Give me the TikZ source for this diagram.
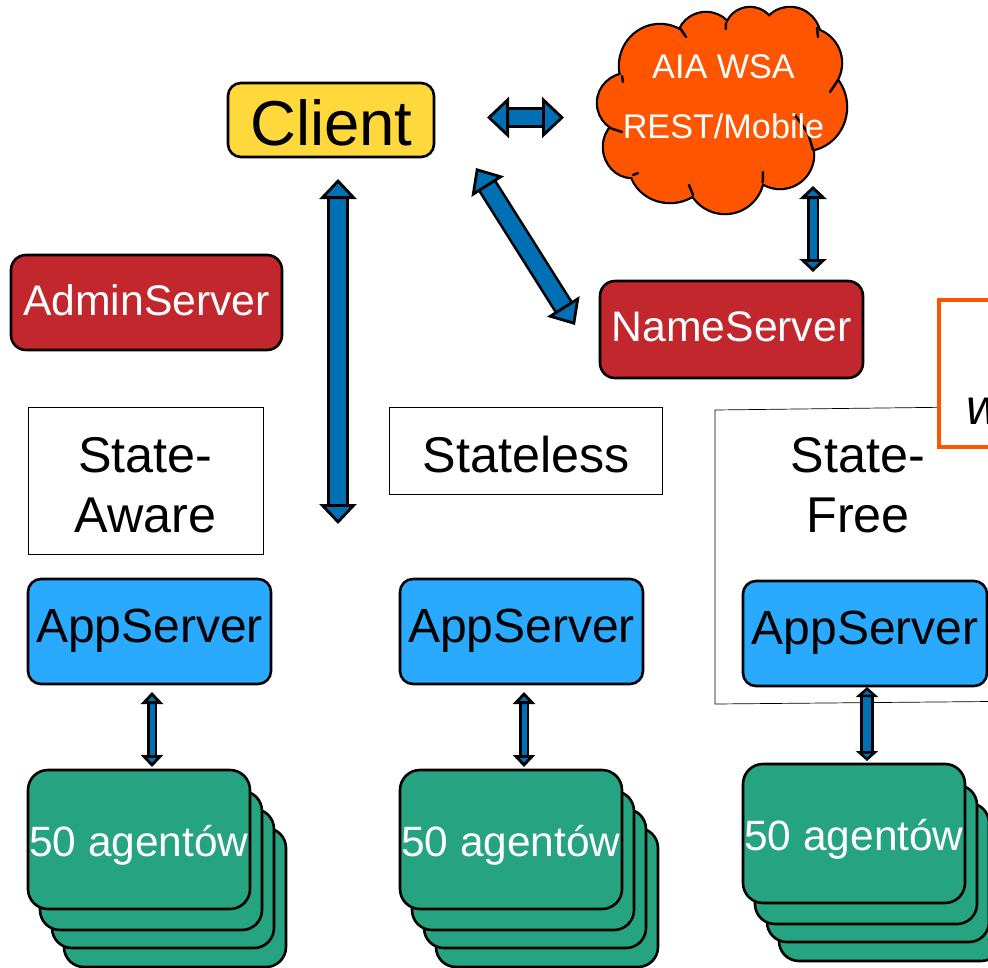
\documentclass[tikz,border=0pt]{standalone}
\usepackage{fontspec}
\setmainfont{Liberation Sans}
\usetikzlibrary{arrows.meta,calc}
\definecolor{clientyellow}{RGB}{255,216,60}
\definecolor{serverred}{RGB}{193,39,45}
\definecolor{appblue}{RGB}{42,170,255}
\definecolor{agentgreen}{RGB}{38,163,128}
\definecolor{arrowblue}{RGB}{0,112,181}
\definecolor{cloudorange}{RGB}{255,85,0}
\newcommand{\fsize}[1]{\fontsize{#1pt}{#1pt}\selectfont}
\tikzset{%
    round box/.style={draw=black,line width=2.6pt,rounded corners=13pt,inner sep=0pt,outer sep=0pt,anchor=north west},
    app node/.style={round box,fill=appblue,minimum width=243pt,minimum height=105pt,font=\fsize{48},text depth=12pt},
    agent node/.style={round box,fill=agentgreen,minimum width=222pt,minimum height=139pt,rounded corners=20pt,
        text=white,font=\fsize{42.4},text height=34pt,text depth=0pt},
    state node/.style={draw=black,line width=0.7pt,inner sep=0pt,outer sep=0pt,anchor=north west},
    state text/.style={font=\fsize{50.3},align=center,inner sep=0pt},
    cloud text/.style={text=white,font=\fsize{34.2},anchor=base,inner sep=0pt},
    blue arrow/.style args={#1/#2/#3}{line width=2.6pt,double=arrowblue,double distance=#1pt,
        {Triangle[length=#2pt,width=#3pt,fill=arrowblue,line width=2.8pt]}-{Triangle[length=#2pt,width=#3pt,fill=arrowblue,line width=2.8pt]}}
}

\begin{document}
\begin{tikzpicture}[x=1pt,y=1pt]
  \useasboundingbox (0,0) rectangle (988,-967);

  % cloud, drawn as a union of lobes
  \foreach \cx/\cy/\rx/\ry in {660/66/40/41,706/40/28/27,750/31/24/23,790/39/30/31,805/63/36/35,
      805/107/41/43,780/155/33/33,725/175/38/38,670/165/40/37,632/147/28/30,628/103/30/29}
    \draw[line width=4.5pt] (\cx,-\cy) ellipse ({\rx} and {\ry});
  \foreach \cx/\cy/\rx/\ry in {660/66/40/41,706/40/28/27,750/31/24/23,790/39/30/31,805/63/36/35,
      805/107/41/43,780/155/33/33,725/175/38/38,670/165/40/37,632/147/28/30,628/103/30/29,722/105/95/70}
    \fill[cloudorange] (\cx,-\cy) ellipse ({\rx} and {\ry});
  % ends of the lobes that run on into the cloud
  \foreach \ax/\ay/\bx/\by in {680/28/686/37,726/23/725.7/29,817/28/818/37,838/80/830/92,795/115/808/133,808/133/813/150,
      763/172/762.7/182,689/185/693/195,633/175/638/173,610/128/622/132,622/76/623/82}
    \draw[line width=2.5pt,line cap=round] (\ax,-\ay) -- (\bx,-\by);
  \node[inner sep=0pt,outer sep=0pt,minimum width=248pt,minimum height=196pt,anchor=north west] (cloud) at (598,-18) {};
  \node[cloud text] (aia) at (723.5,-78) {AIA WSA};
  \node[cloud text] (rest) at (723.5,-138) {REST/Mobile};

  \node[round box,fill=clientyellow,minimum width=206pt,minimum height=74pt] (client) at (228,-83) {};
  \node[font=\fsize{63.5},anchor=base,inner sep=0pt] (clienttext) at (331.5,-145) {Client};
  \node[round box,fill=serverred,text=white,minimum width=271pt,minimum height=95pt,rounded corners=15pt,
    font=\fsize{42.7},text depth=4pt] (admin) at (11,-255) {AdminServer};
  \node[round box,fill=serverred,text=white,minimum width=263pt,minimum height=97pt,rounded corners=15pt,
    font=\fsize{42.7},text depth=6pt] (name) at (600,-281) {NameServer};

  % state boxes
  \node[state node,minimum width=235pt,minimum height=147pt] (aware) at (28,-407) {};
  \node[state text] (awaretext) at (145.5,-485) {State-\\[10pt]Aware};
  \node[state node,minimum width=273pt,minimum height=87pt] (stateless) at (389,-407) {};
  \node[state text,anchor=base] (statelesstext) at (526,-472) {Stateless};
  \draw[line width=0.7pt] (990,-406.7) -- (715,-410) -- (715,-704) -- (990,-701.5);
  \node[state text] (free) at (858,-485) {State-\\[10pt]Free};

  \draw[draw=cloudorange,line width=4.5pt,fill=white] (1000,-300) -- (939,-300) -- (939,-447) -- (1000,-447);
  \node[font=\fsize{50}\itshape,anchor=base west,inner sep=0pt] (note) at (966,-424) {w};

  \node[app node] (app1) at (28,-579) {AppServer};
  \node[app node] (app2) at (400,-579) {AppServer};
  \node[app node,minimum width=244pt] (app3) at (743,-581) {AppServer};

  % stacks of agents, back to front
  \foreach \i/\px/\py in {1/28/-770,2/400/-770,3/743/-764} {
    \foreach \off/\dy in {36/58,24/39,12/21}
      \node[agent node] at (\px+\off,\py-\dy) {};
    \node[agent node] (agents\i) at (\px,\py) {50 agentów};
  }

  % connectors
  \coordinate (diagtop) at (476,-168);
  \coordinate (diagbottom) at (575,-325);
  \draw[blue arrow=15/22/41] ([yshift=2.5pt]client.east) -- ([yshift=2.5pt]client.east -| cloud.west)
    [shorten <=53pt,shorten >=34pt];
  \draw[blue arrow=16/20/37] (client.south -| 338,0) -- (aware.south -| 338,0) [shorten <=22pt,shorten >=30pt];
  \draw[blue arrow=16/22/38] (diagtop) -- (diagbottom);
  \draw[blue arrow=7/13/27] (cloud.south -| 813,0) -- (name.north -| 813,0) [shorten <=-28pt,shorten >=9pt];
  \draw[blue arrow=5/12/22] ([xshift=2.5pt]app1.south) -- ([xshift=2.5pt]app1.south |- agents1.north)
    [shorten <=8pt,shorten >=3pt];
  \draw[blue arrow=5/12/22] ([xshift=2.5pt]app2.south) -- ([xshift=2.5pt]app2.south |- agents2.north)
    [shorten <=8pt,shorten >=3pt];
  \draw[blue arrow=8/10/22] ([xshift=2pt]app3.south) -- ([xshift=2pt]app3.south |- agents3.north)
    [shorten <=1pt,shorten >=3pt];
\end{tikzpicture}
\end{document}
